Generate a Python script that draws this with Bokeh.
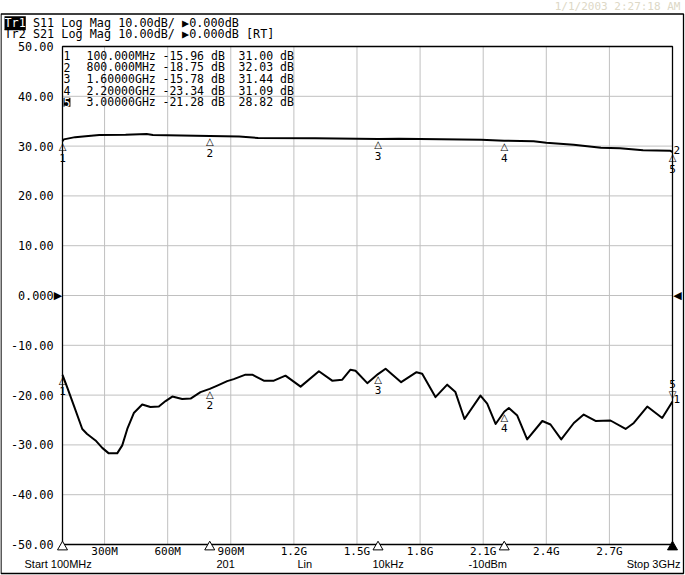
from bokeh.plotting import figure
from bokeh.models import Range1d, Label, LabelSet, ColumnDataSource
from bokeh.core.properties import value
from bokeh.embed import file_html
from bokeh.resources import INLINE

# ---------------- data ----------------
s11_freq_mhz = [100, 122, 154, 194, 217, 257, 289, 320, 360, 384, 408, 439, 479, 518, 558, 590,
                622, 669, 709, 756, 800, 836, 883, 914, 970, 1002, 1057, 1105, 1160, 1232, 1319,
                1382, 1430, 1469, 1493, 1549, 1600, 1636, 1710, 1783, 1810, 1873, 1929, 1968,
                2011, 2087, 2119, 2159, 2200, 2222, 2262, 2309, 2381, 2420, 2471, 2531, 2578,
                2634, 2705, 2777, 2816, 2880, 2951, 3000]
s11_db = [-15.96, -18.4, -22.1, -26.8, -27.8, -29.1, -30.6, -31.7, -31.7, -30.1, -26.8, -23.6,
          -21.9, -22.4, -22.3, -21.2, -20.3, -20.8, -20.7, -19.4, -18.75, -18.1, -17.2, -16.8,
          -15.9, -15.9, -17.1, -17.1, -16.1, -18.3, -15.2, -17.1, -16.9, -14.9, -15.1, -17.6,
          -15.78, -14.7, -17.4, -15.4, -15.7, -20.4, -17.9, -19.4, -24.8, -20.1, -21.7, -25.8,
          -23.34, -22.6, -24.1, -28.9, -25.2, -25.9, -28.9, -25.6, -23.9, -25.2, -25.1, -26.8,
          -25.6, -22.3, -24.6, -21.28]

s21_freq_mhz = [100, 106, 160, 210, 275, 400, 500, 530, 800, 940, 1030, 1300, 1600, 1700, 1900,
                2090, 2200, 2340, 2400, 2530, 2660, 2750, 2860, 2990, 3000]
s21_db = [31.00, 31.35, 31.8, 32.0, 32.25, 32.3, 32.45, 32.25, 32.03, 31.93, 31.62, 31.6, 31.44,
          31.5, 31.4, 31.27, 31.09, 30.98, 30.66, 30.26, 29.66, 29.58, 29.18, 29.06, 28.82]

marker_ids = ["1", "2", "3", "4", "5"]
marker_freq_mhz = [100, 800, 1600, 2200, 3000]
marker_freq_labels = ["100.000MHz", "800.000MHz", "1.60000GHz", "2.20000GHz", "3.00000GHz"]
marker_s11_db = [-15.96, -18.75, -15.78, -23.34, -21.28]
marker_s21_db = [31.00, 32.03, 31.44, 31.09, 28.82]

y_ticks = [50, 40, 30, 20, 10, 0, -10, -20, -30, -40, -50]
y_tick_labels = ["50.00", "40.00", "30.00", "20.00", "10.00", "0.000",
                 "-10.00", "-20.00", "-30.00", "-40.00", "-50.00"]
x_ticks = [300, 600, 900, 1200, 1500, 1800, 2100, 2400, 2700]
x_tick_labels = ["300M", "600M", "900M", "1.2G", "1.5G", "1.8G", "2.1G", "2.4G", "2.7G"]

header_lines = ["Tr1 S11 Log Mag 10.00dB/ \u25b60.000dB",
                "Tr2 S21 Log Mag 10.00dB/ \u25b60.000dB [RT]"]
footer_items = ["Start 100MHz", "201", "Lin", "10kHz", "-10dBm", "Stop 3GHz"]
timestamp = "1/1/2003 2:27:18 AM"
ref_level_db = 0

MONO = "DejaVu Sans Mono"
SANS = "Liberation Sans"
SYM = "DejaVu Sans"

# ---------------- layout (pixels of the page) ----------------
W, H = 685, 575
PL, PR, PT, PB = 62, 672, 46, 544          # graticule box
f_lo, f_hi = s11_freq_mhz[0], s11_freq_mhz[-1]
d_lo, d_hi = min(y_ticks), max(y_ticks)
kx = (f_hi - f_lo) / (PR - PL)
ky = (d_hi - d_lo) / (PB - PT)

p = figure(width=W, height=H,
           x_range=Range1d(f_lo - PL * kx, f_hi + (W - PR) * kx),
           y_range=Range1d(d_lo - (H - PB) * ky, d_hi + PT * ky),
           output_backend="svg", toolbar_location=None,
           x_axis_type=None, y_axis_type=None, min_border=0)
p.min_border_left = p.min_border_right = p.min_border_top = p.min_border_bottom = 0
p.outline_line_color = None
p.background_fill_color = "white"
p.border_fill_color = "white"
p.xgrid.grid_line_color = None
p.ygrid.grid_line_color = None
p.extra_x_ranges = {"px": Range1d(0, W)}
p.extra_y_ranges = {"px": Range1d(H, 0)}


def labels(x, y, text, xr="default", yr="default", font=MONO, size="11.5px", color="black",
           align="left", baseline="middle", xoff=0, yoff=0):
    n = len(text)
    src = ColumnDataSource(dict(x=list(x) if isinstance(x, (list, tuple)) else [x] * n,
                                y=list(y) if isinstance(y, (list, tuple)) else [y] * n,
                                t=list(text)))
    p.add_layout(LabelSet(x="x", y="y", text="t", source=src, x_range_name=xr, y_range_name=yr,
                          text_font=value(font), text_font_size=size, text_color=color,
                          text_align=align, text_baseline=baseline, x_offset=xoff, y_offset=yoff))


# ---------------- graticule ----------------
p.segment(x0=x_ticks, y0=[d_lo] * len(x_ticks), x1=x_ticks, y1=[d_hi] * len(x_ticks),
          line_color="#c0c0c0", line_width=1)
p.segment(x0=[f_lo] * len(y_ticks), y0=y_ticks, x1=[f_hi] * len(y_ticks), y1=y_ticks,
          line_color="#c0c0c0", line_width=1)

# ---------------- traces ----------------
p.line(s21_freq_mhz, s21_db, line_color="black", line_width=2, line_join="round")
p.line(s11_freq_mhz, s11_db, line_color="black", line_width=2, line_join="round")

p.quad(left=[f_lo], right=[f_hi], bottom=[d_lo], top=[d_hi], fill_color=None,
       line_color="black", line_width=1.3)
# instrument screen frame
p.quad(left=[0.5], right=[683], top=[13.5], bottom=[573], x_range_name="px", y_range_name="px",
       fill_color=None, line_color="black", line_width=1.3)

# ---------------- tick labels ----------------
labels(53, y_ticks, y_tick_labels, xr="px", align="right", size="11.8px")
labels(x_ticks, 550.5, x_tick_labels, yr="px", align="center", size="11px")

# reference level arrows
p.add_layout(Label(x=57.5, y=ref_level_db, x_range_name="px", text="\u25b6", text_align="center",
                   text_baseline="middle", text_font=SYM, text_font_size="11px", text_color="black"))
p.add_layout(Label(x=677, y=ref_level_db, x_range_name="px", text="\u25c0", text_align="center",
                   text_baseline="middle", text_font=SYM, text_font_size="11px", text_color="black"))

# stimulus markers under the frequency axis
p.scatter(x=marker_freq_mhz, y=[546.5] * 5, y_range_name="px", marker="triangle", size=10,
          line_color="black", line_width=1,
          fill_color=["white", "white", "white", "white", "black"])

# ---------------- trace markers ----------------
labels(marker_freq_mhz, marker_s21_db, ["\u25b3"] * 5, font=SYM, size="10px", align="center",
       baseline="top", yoff=0)
labels(marker_freq_mhz, marker_s21_db, marker_ids, size="11px", align="center", yoff=-17)
labels(marker_freq_mhz[:4], marker_s11_db[:4], ["\u25b3"] * 4, font=SYM, size="10px",
       align="center", baseline="top", yoff=0)
labels(marker_freq_mhz[:4], marker_s11_db[:4], marker_ids[:4], size="11px", align="center",
       yoff=-16)
# active marker 5 on trace 1 sits above the trace
labels(marker_freq_mhz[4:], marker_s11_db[4:], ["\u25bd"], font=SYM, size="10px",
       align="center", baseline="bottom", yoff=1)
labels(marker_freq_mhz[4:], marker_s11_db[4:], marker_ids[4:], size="11px", align="center",
       yoff=17)
# trace identifiers at the trace ends
labels([s21_freq_mhz[-1], s11_freq_mhz[-1]], [s21_db[-1], s11_db[-1]], ["2", "1"], size="11px",
       xoff=1, yoff=2)

# ---------------- marker table ----------------
row_y = [55 + 11.7 * i for i in range(5)]
labels(63, row_y, marker_ids, xr="px", yr="px")
labels(86, row_y, marker_freq_labels, xr="px", yr="px")
labels(162, row_y, ["%.2f dB" % v for v in marker_s11_db], xr="px", yr="px")
labels(238, row_y, ["%.2f dB" % v for v in marker_s21_db], xr="px", yr="px")
p.add_layout(Label(x=63, y=row_y[4], x_range_name="px", y_range_name="px", text=marker_ids[4],
                   text_align="left", text_baseline="middle", text_font=MONO,
                   text_font_size="11.5px", text_color="white", background_fill_color="black"))

# ---------------- header / footer ----------------
labels(4, [22.7, 33.6], header_lines, xr="px", yr="px", size="11.8px")
p.add_layout(Label(x=4, y=22.7, x_range_name="px", y_range_name="px", text="Tr1",
                   text_align="left", text_baseline="middle", text_font=MONO,
                   text_font_size="11.8px", text_color="white", background_fill_color="black"))
labels(680, 5.5, [timestamp], xr="px", yr="px", size="11px", color="#ddd8c6", align="right")

labels([24, 216, 297, 372, 468], 563, footer_items[:5], xr="px", yr="px", font=SANS, size="11px")
labels(680, 563, footer_items[5:], xr="px", yr="px", font=SANS, size="11px", align="right")

open("out.html", "w").write(file_html(p, INLINE))
